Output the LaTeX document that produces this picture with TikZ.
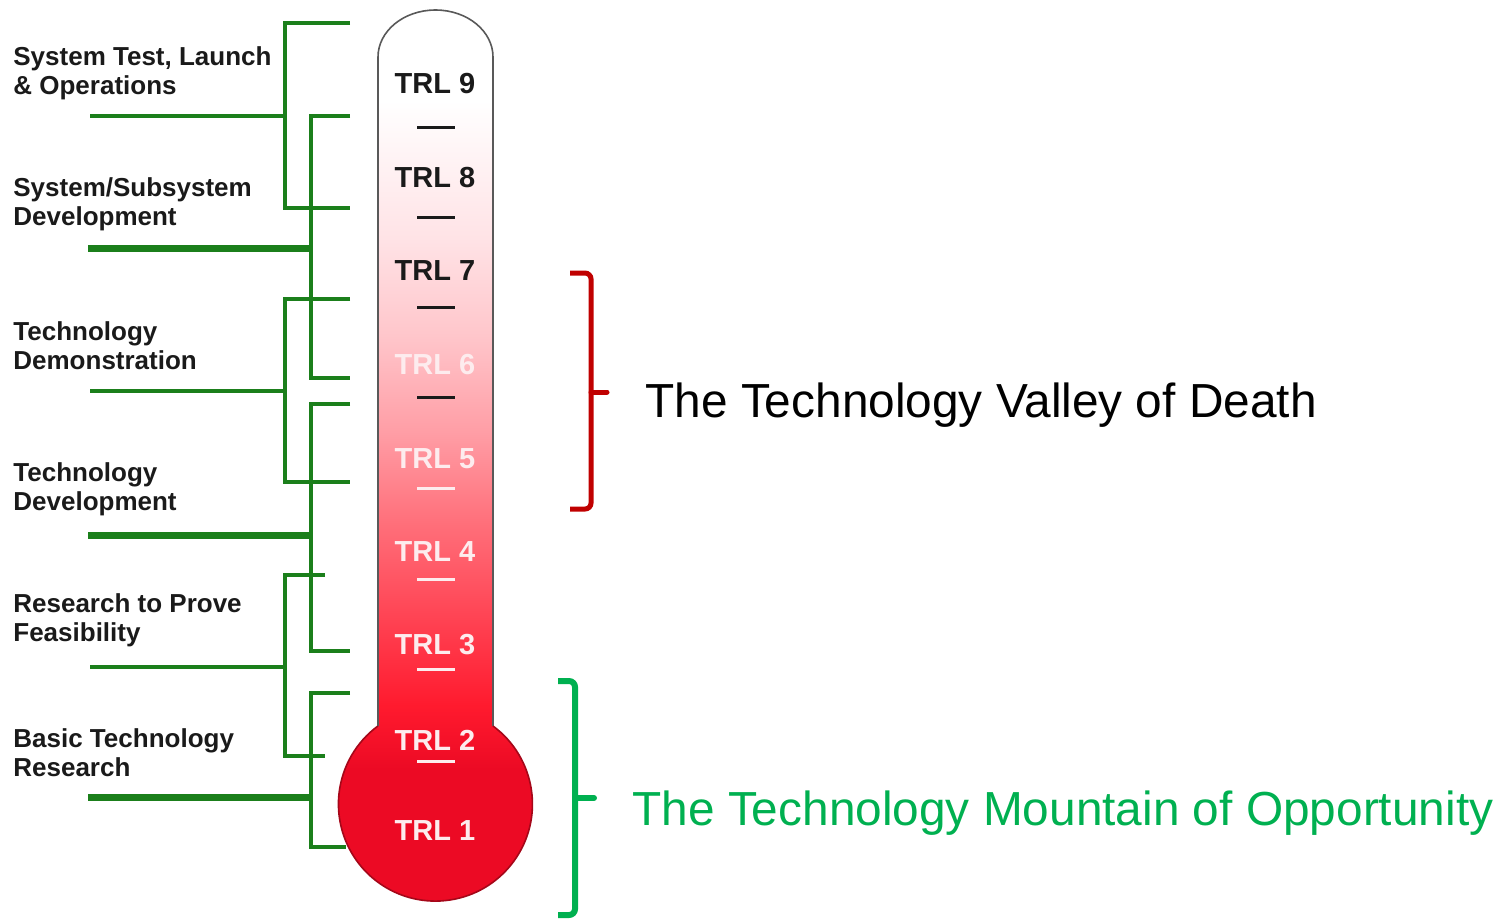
\documentclass[tikz,border=0pt]{standalone}
\usepackage{fontspec}
\setmainfont{Liberation Sans}

\definecolor{treegreen}{HTML}{1B7F1B}
\definecolor{oppgreen}{HTML}{00B050}
\definecolor{deathred}{HTML}{C00000}
\definecolor{textdark}{HTML}{1A1A1A}
\definecolor{bulbred}{HTML}{EC0A24}
\definecolor{tubeA}{HTML}{FF1A2E}
\definecolor{tubeB}{HTML}{FF4555}
\definecolor{tubeC}{HTML}{FF6F7A}
\definecolor{tubeD}{HTML}{FF9EA6}
\definecolor{tubeE}{HTML}{FFC6CB}
\definecolor{tubeF}{HTML}{FFE3E6}
\definecolor{trllight}{HTML}{FDECEE}

\pgfdeclareverticalshading{thermo}{100bp}{color(0bp)=(bulbred); color(33bp)=(bulbred);
  color(36.5bp)=(tubeA); color(41.6bp)=(tubeB); color(46.6bp)=(tubeC);
  color(51.7bp)=(tubeD); color(57bp)=(tubeE); color(62.4bp)=(tubeF);
  color(70bp)=(white); color(100bp)=(white)}

\begin{document}
\begin{tikzpicture}[x=0.5pt,y=0.5pt]

    \tikzset{
      bracket/.style={
        color=treegreen,
        line width=2pt,
      },
      stem/.style={
        color=treegreen,
        line width=2pt,
      },
      stemthick/.style={
        color=treegreen,
        line width=3.5pt,
      },
      stagetext/.style={
        anchor=west,
        align=left,
        inner sep=0pt,
        text=textdark,
        font=\fontsize{13}{14.5}\selectfont\bfseries,
      },
      trl/.style={
        anchor=center,
        inner sep=0pt,
        font=\fontsize{14.5}{17}\selectfont\bfseries,
      },
      tick/.style={
        line width=1.5pt,
      },
    }
    \useasboundingbox (0,0) rectangle (1499,-918);

	% thermometer
	\shade[shading=thermo] (378,-726)--(378,-57) arc[start angle=180,end angle=0,x radius=57.5,y radius=47]--(493,-726) arc[start angle=53.6,end angle=-233.6,radius=97]--cycle;
	\draw[color={black!65},line width = 0.8pt] (378,-726)--(378,-57) arc[start angle=180,end angle=0,x radius=57.5,y radius=47]--(493,-726);
	\draw[color={bulbred!70!black},line width = 0.8pt] (493,-726) arc[start angle=53.6,end angle=-233.6,radius=97];

	\draw (435,-84) node[trl,text=textdark] (trl9) {TRL 9};
	\draw (435,-178) node[trl,text=textdark] (trl8) {TRL 8};
	\draw (435,-271) node[trl,text=textdark] (trl7) {TRL 7};
	\draw (435,-365) node[trl,text=trllight] (trl6) {TRL 6};
	\draw (435,-459) node[trl,text=trllight] (trl5) {TRL 5};
	\draw (435,-552) node[trl,text=trllight] (trl4) {TRL 4};
	\draw (435,-645) node[trl,text=trllight] (trl3) {TRL 3};
	\draw (435,-740) node[trl,text=trllight] (trl2) {TRL 2};
	\draw (435,-831) node[trl,text=trllight] (trl1) {TRL 1};

	\draw[tick,color=textdark] (417,-127)--(455,-127);
	\draw[tick,color=textdark] (417,-217)--(455,-217);
	\draw[tick,color=textdark] (417,-307)--(455,-307);
	\draw[tick,color=textdark] (417,-397)--(455,-397);
	\draw[tick,color=trllight] (417,-488)--(455,-488);
	\draw[tick,color=trllight] (417,-579)--(455,-579);
	\draw[tick,color=trllight] (417,-669)--(455,-669);
	\draw[tick,color=trllight] (417,-761)--(455,-761);

	% stage brackets
	\draw[bracket] (350,-23)--(285,-23)--(285,-208)--(350,-208);
	\draw[bracket] (350,-116)--(311,-116)--(311,-378)--(350,-378);
	\draw[bracket] (350,-299)--(285,-299)--(285,-482)--(350,-482);
	\draw[bracket] (350,-404)--(311,-404)--(311,-651)--(350,-651);
	\draw[bracket] (325,-575)--(285,-575)--(285,-756)--(325,-756);
	\draw[bracket] (350,-693)--(311,-693)--(311,-847)--(346,-847);
	\draw[stem] (90,-116)--(285,-116);
	\draw[stemthick] (88,-248)--(311,-248);
	\draw[stem] (90,-391)--(285,-391);
	\draw[stemthick] (88,-535)--(311,-535);
	\draw[stem] (90,-667)--(285,-667);
	\draw[stemthick] (88,-797)--(311,-797);

	\draw (13,-73) node[stagetext] (launch) {System Test, Launch\\\& Operations};
	\draw (13,-204) node[stagetext] (subsys) {System/Subsystem\\Development};
	\draw (13,-346) node[stagetext] (demo) {Technology\\Demonstration};
	\draw (13,-489) node[stagetext] (techdev) {Technology\\Development};
	\draw (13,-620) node[stagetext] (feas) {Research to Prove\\Feasibility};
	\draw (13,-753) node[stagetext] (basic) {Basic Technology\\Research};

	% valley and mountain
	\draw[color=deathred,line width = 2.5pt,rounded corners=3pt] (570,-273)--(591,-273)--(591,-509)--(570,-509);
	\draw[color=deathred,line width = 2.5pt,line cap=round] (591,-392)--(607,-392);
	\draw[color=oppgreen,line width = 3pt,rounded corners=3pt] (558,-681)--(575,-681)--(575,-915)--(558,-915);
	\draw[color=oppgreen,line width = 3pt,line cap=round] (575,-798)--(594,-798);

	\draw (645,-417) node[anchor=base west,inner sep=0pt,font=\fontsize{23.9}{28}\selectfont] (valley) {The Technology Valley of Death};
	\draw (632,-825) node[anchor=base west,inner sep=0pt,font=\fontsize{23.9}{28}\selectfont,text=oppgreen] (mountain) {The Technology Mountain of Opportunity};

\end{tikzpicture}
\end{document}
